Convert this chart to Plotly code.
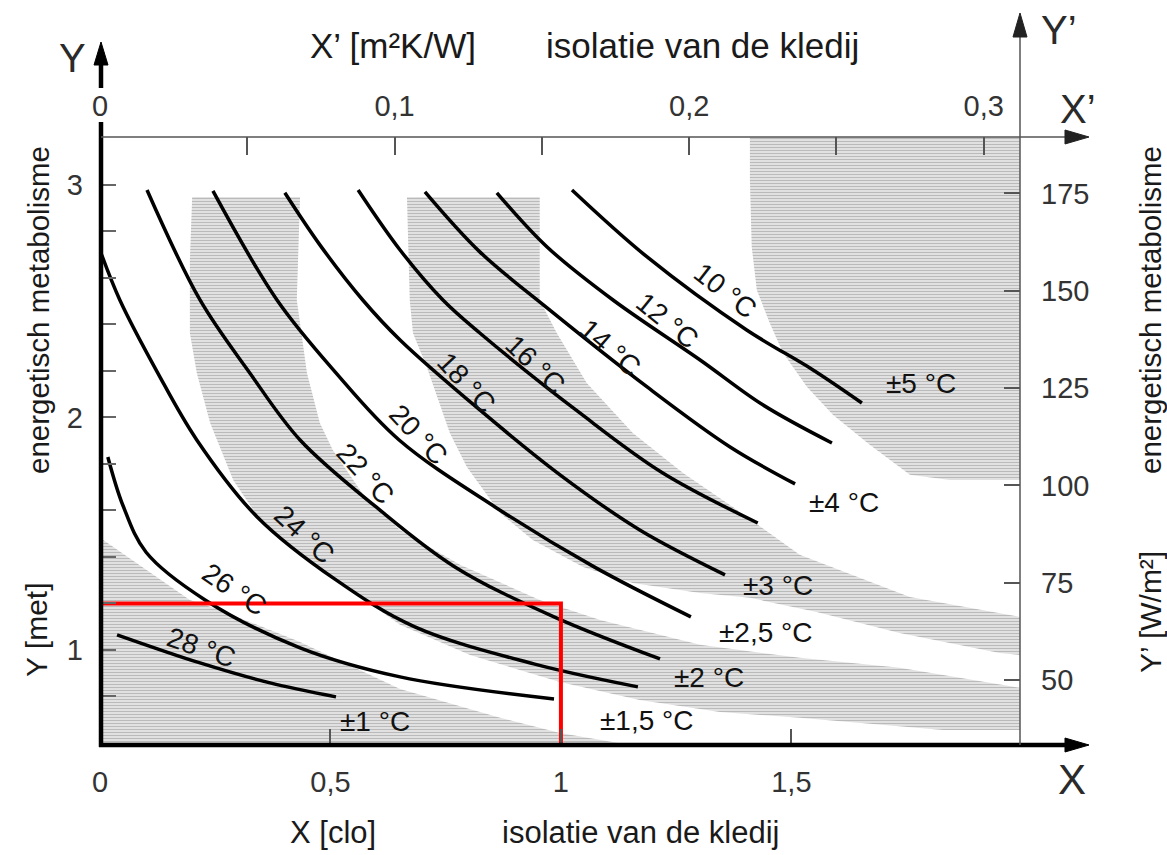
import plotly.graph_objects as go

# ---------------- canvas / plot-area geometry (pixels) ----------------
W, H = 1167, 855
ML, MR, MT, MB = 100, 147, 137, 110
PW, PH = W - ML - MR, H - MT - MB

# ---------------- axis ranges ----------------
X_RANGE = [0.0, 1.996]      # clo
Y_RANGE = [0.591, 3.206]    # met
X2_RANGE = [0.0, 0.3123]    # m2K/W
Y2_RANGE = [33.3, 189.5]    # W/m2

# ---------------- ticks ----------------
x_tickvals = [0, 0.5, 1.0, 1.5]
x_ticktext = ["0", "0,5", "1", "1,5"]
y_tickvals = [0.8, 1.0, 1.2, 1.4, 1.6, 1.8, 2.0, 2.2, 2.4, 2.6, 2.8, 3.0]
y_ticktext = ["", "1", "", "", "", "", "2", "", "", "", "", "3"]
x2_tickvals = [0, 0.05, 0.10, 0.15, 0.20, 0.25, 0.30]
x2_ticktext = ["0", "", "0,1", "", "0,2", "", "0,3"]
y2_tickvals = [50, 75, 100, 125, 150, 175]
y2_ticktext = ["50", "75", "100", "125", "150", "175"]

# ---------------- comfort curves (X clo, Y met) ----------------
c10_x = [1.024, 1.187, 1.403, 1.547, 1.653]
c10_y = [2.978, 2.690, 2.376, 2.204, 2.062]
c12_x = [0.861, 0.970, 1.113, 1.302, 1.438, 1.588]
c12_y = [2.966, 2.733, 2.505, 2.247, 2.054, 1.890]
c14_x = [0.705, 0.824, 0.970, 1.187, 1.367, 1.508]
c14_y = [2.970, 2.712, 2.471, 2.131, 1.873, 1.714]
c16_x = [0.560, 0.651, 0.744, 0.824, 1.041, 1.221, 1.427]
c16_y = [2.978, 2.720, 2.505, 2.363, 2.019, 1.761, 1.546]
c18_x = [0.401, 0.477, 0.570, 0.651, 0.824, 0.998, 1.171, 1.356]
c18_y = [2.966, 2.742, 2.505, 2.333, 2.032, 1.753, 1.516, 1.323]
c20_x = [0.245, 0.384, 0.510, 0.649, 0.857, 1.072, 1.282]
c20_y = [2.974, 2.505, 2.196, 1.903, 1.615, 1.357, 1.142]
c22_x = [0.102, 0.217, 0.325, 0.434, 0.599, 0.770, 0.985, 1.215]
c22_y = [2.978, 2.505, 2.191, 1.903, 1.615, 1.357, 1.142, 0.961]
c24_x = [0.002, 0.043, 0.124, 0.210, 0.341, 0.512, 0.683, 0.941, 1.167]
c24_y = [2.708, 2.505, 2.196, 1.903, 1.572, 1.301, 1.099, 0.940, 0.841]
c26_x = [0.017, 0.050, 0.100, 0.228, 0.434, 0.651, 0.985]
c26_y = [1.830, 1.620, 1.420, 1.215, 1.009, 0.884, 0.789]
c28_x = [0.037, 0.217, 0.369, 0.512]
c28_y = [1.065, 0.944, 0.858, 0.798]

# curve labels
curve_labels = ["10 °C", "12 °C", "14 °C", "16 °C", "18 °C", "20 °C", "22 °C", "24 °C", "26 °C", "28 °C"]
curve_label_x = [1.356, 1.230, 1.106, 0.944, 0.794, 0.690, 0.575, 0.443, 0.291, 0.219]
curve_label_y = [2.544, 2.415, 2.299, 2.226, 2.148, 1.925, 1.757, 1.495, 1.258, 1.009]
curve_label_angle = [38, 39, 41, 44, 47, 47, 48, 43, 34, 19]

# tolerance labels
tol_labels = ["±5 °C", "±4 °C", "±3 °C", "±2,5 °C", "±2 °C", "±1,5 °C", "±1 °C"]
tol_x = [1.781, 1.614, 1.471, 1.445, 1.321, 1.187, 0.597]
tol_y = [2.144, 1.632, 1.275, 1.073, 0.880, 0.695, 0.690]

# ---------------- shaded tolerance bands (X clo, Y met) ----------------
bandA_x = [0.0, 0.108, 0.195, 0.260, 0.434, 0.651, 0.868, 0.998, 1.150, 0.0]
bandA_y = [1.482, 1.335, 1.215, 1.172, 1.034, 0.832, 0.708, 0.643, 0.591, 0.591]

bandB_x = [0.200, 0.434, 0.427, 0.449, 0.477, 0.505, 0.579, 0.651, 0.781, 0.954, 1.085,
           1.302, 1.518, 1.735, 1.996, 1.996, 1.829, 1.518, 1.345, 1.171, 0.998, 0.803,
           0.651, 0.542, 0.434, 0.347, 0.289, 0.239, 0.210, 0.195, 0.195]
bandB_y = [2.948, 2.948, 2.505, 2.191, 1.976, 1.860, 1.645, 1.516, 1.366, 1.215, 1.129,
           1.022, 0.966, 0.923, 0.837, 0.656, 0.656, 0.708, 0.733, 0.785, 0.862, 0.978,
           1.108, 1.258, 1.409, 1.559, 1.731, 1.976, 2.191, 2.363, 2.677]

bandC_x = [0.666, 0.954, 0.954, 0.991, 1.056, 1.156, 1.265, 1.373, 1.518, 1.757, 1.996,
           1.996, 1.952, 1.735, 1.555, 1.410, 1.302, 1.156, 1.048, 0.939, 0.868, 0.796,
           0.759, 0.709, 0.679, 0.672]
bandC_y = [2.948, 2.948, 2.505, 2.363, 2.148, 1.933, 1.761, 1.615, 1.409, 1.228, 1.142,
           0.978, 0.987, 1.073, 1.163, 1.224, 1.245, 1.288, 1.357, 1.473, 1.589, 1.787,
           1.933, 2.217, 2.363, 2.505]

bandD_x = [1.410, 1.996, 1.996, 1.844, 1.757, 1.670, 1.590, 1.534, 1.482, 1.453, 1.425, 1.414, 1.410]
bandD_y = [3.206, 3.206, 1.731, 1.731, 1.753, 1.882, 2.011, 2.131, 2.277, 2.406, 2.548, 2.733, 3.022]

# reference working point (1 clo, 1.2 met)
ref_x = [0.0, 1.0, 1.0]
ref_y = [1.2, 1.2, Y_RANGE[0]]

FONT = "Liberation Sans, Arial, sans-serif"


def fx(px):
    return (px - ML) / PW


def fy(py):
    return (H - MB - py) / PH


fig = go.Figure()

band_fill = dict(shape="-", size=3, solidity=0.45, fgcolor="#8c8c8c", bgcolor="#e8e8e8")
for bx, by in [(bandA_x, bandA_y), (bandB_x, bandB_y), (bandC_x, bandC_y), (bandD_x, bandD_y)]:
    fig.add_trace(go.Scatter(
        x=bx, y=by, mode="lines", fill="toself", line=dict(width=0, color="rgba(0,0,0,0)"),
        fillcolor="#d0d0d0", fillpattern=band_fill, hoverinfo="skip", showlegend=False))

for cx, cy in [(c10_x, c10_y), (c12_x, c12_y), (c14_x, c14_y), (c16_x, c16_y), (c18_x, c18_y),
               (c20_x, c20_y), (c22_x, c22_y), (c24_x, c24_y), (c26_x, c26_y), (c28_x, c28_y)]:
    fig.add_trace(go.Scatter(
        x=cx, y=cy, mode="lines", line=dict(color="black", width=3.5, shape="spline"),
        hoverinfo="skip", showlegend=False))

fig.add_trace(go.Scatter(x=ref_x, y=ref_y, mode="lines", line=dict(color="#ff0000", width=4),
                         hoverinfo="skip", showlegend=False, cliponaxis=False))

# trace for secondary axes
fig.add_trace(go.Scatter(x=[0.1], y=[100], xaxis="x2", yaxis="y2", mode="markers",
                         marker=dict(opacity=0), hoverinfo="skip", showlegend=False))

annotations = []
for t, x, y, a in zip(curve_labels, curve_label_x, curve_label_y, curve_label_angle):
    annotations.append(dict(x=x, y=y, xref="x", yref="y", text=t, showarrow=False, textangle=a,
                            font=dict(family=FONT, size=28, color="#111")))
for t, x, y in zip(tol_labels, tol_x, tol_y):
    annotations.append(dict(x=x, y=y, xref="x", yref="y", text=t, showarrow=False,
                            font=dict(family=FONT, size=28, color="#111")))

title_col = "#1a1a1a"
titles = [
    ("X’ [m²K/W]", 393, 46, 0, 35),
    ("isolatie van de kledij", 702, 46, 0, 35),
    ("X [clo]", 333, 832, 0, 31),
    ("isolatie van de kledij", 640, 832, 0, 31),
    ("energetisch metabolisme", 38, 310, -90, 29.5),
    ("Y [met]", 36, 630, -90, 30),
    ("energetisch metabolisme", 1150, 310, -90, 29.5),
    ("Y’ [W/m²]", 1150, 612, -90, 30),
    ("Y", 72, 58, 0, 40),
    ("Y’", 1059, 30, 0, 40),
    ("X’", 1078, 109, 0, 40),
    ("X", 1072, 779, 0, 42),
]
for t, px, py, ang, sz in titles:
    annotations.append(dict(x=fx(px), y=fy(py), xref="paper", yref="paper", text=t, showarrow=False,
                            textangle=ang, xanchor="center", yanchor="middle",
                            font=dict(family=FONT, size=sz, color=title_col if sz < 38 else "#2a2a2a")))


def seg(x0, y0, x1, y1, color, width):
    return dict(type="line", xref="paper", yref="paper", x0=fx(x0), y0=fy(y0), x1=fx(x1), y1=fy(y1),
                line=dict(color=color, width=width), layer="above")


def tri(points, color):
    p = "M " + " L ".join(f"{fx(a):.5f},{fy(b):.5f}" for a, b in points) + " Z"
    return dict(type="path", xref="paper", yref="paper", path=p, fillcolor=color,
                line=dict(color=color, width=1), layer="above")


shapes = [
    seg(101, 747, 101, 122, "black", 4.5),
    seg(101, 88, 101, 60, "black", 4.5),
    tri([(101, 42), (94, 65), (108, 65)], "black"),
    seg(99, 745, 1068, 745, "black", 4.5),
    tri([(1089, 745), (1065, 738), (1065, 752)], "black"),
    seg(101, 137, 1068, 137, "#555555", 1.5),
    tri([(1089, 137), (1065, 130), (1065, 144)], "#222222"),
    seg(1020, 745, 1020, 36, "#555555", 1.5),
    tri([(1020, 13), (1013, 37), (1027, 37)], "#222222"),
]

tickfont = dict(family=FONT, size=29, color="#333333")
fig.update_layout(
    width=W, height=H,
    margin=dict(l=ML, r=MR, t=MT, b=MB, pad=0),
    paper_bgcolor="white", plot_bgcolor="white",
    showlegend=False,
    xaxis=dict(range=X_RANGE, showgrid=False, zeroline=False, showline=False, ticks="inside",
               ticklen=16, tickwidth=1.5, tickcolor="#555555", tickvals=x_tickvals, ticktext=x_ticktext,
               tickfont=tickfont, ticklabelstandoff=17),
    yaxis=dict(range=Y_RANGE, showgrid=False, zeroline=False, showline=False, ticks="inside",
               ticklen=16, tickwidth=1.5, tickcolor="#666666", tickvals=y_tickvals, ticktext=y_ticktext,
               tickfont=tickfont, ticklabelstandoff=16),
    xaxis2=dict(range=X2_RANGE, overlaying="x", side="top", anchor="y", showgrid=False, zeroline=False,
                showline=False, ticks="inside", ticklen=18, tickwidth=1.5, tickcolor="#555555",
                tickvals=x2_tickvals, ticktext=x2_ticktext, tickfont=tickfont, ticklabelstandoff=14),
    yaxis2=dict(range=Y2_RANGE, overlaying="y", side="right", anchor="x", showgrid=False, zeroline=False,
                showline=False, ticks="inside", ticklen=16, tickwidth=1.5, tickcolor="#555555",
                tickvals=y2_tickvals, ticktext=y2_ticktext, tickfont=tickfont, ticklabelstandoff=20),
    annotations=annotations,
    shapes=shapes,
)

fig.write_html(
    "out.html",
    config={"displayModeBar": False},
    post_script="document.body.style.margin='0px';document.body.style.overflow='hidden';"
                "document.documentElement.style.overflow='hidden';",
)
